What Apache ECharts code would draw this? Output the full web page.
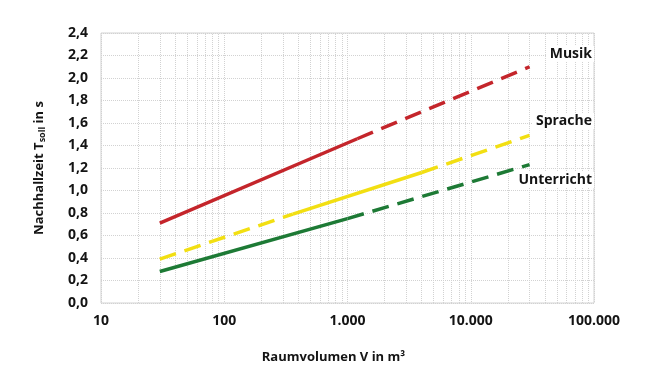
<!DOCTYPE html>
<html>
<head>
<meta charset="utf-8">
<script src="https://cdn.jsdelivr.net/npm/echarts@6/dist/echarts.min.js"></script>
<style>
  html, body { margin: 0; padding: 0; background: #fff; }
  #chart { width: 646px; height: 372px; }
</style>
</head>
<body>
<div id="chart"></div>
<script>
var xTicks = [10, 100, 1000, 10000, 100000];
var xTickLabels = ['10', '100', '1.000', '10.000', '100.000'];
var minorGrid = [20, 30, 40, 50, 60, 70, 80, 90,
                 200, 300, 400, 500, 600, 700, 800, 900,
                 2000, 3000, 4000, 5000, 6000, 7000, 8000, 9000,
                 20000, 30000, 40000, 50000, 60000, 70000, 80000, 90000];

// [Raumvolumen, Nachhallzeit]
var musikSolid = [[30, 0.71], [1200, 1.46]];
var musikDash = [[1200, 1.46], [30000, 2.10]];
var spracheDash = [[30, 0.39], [360, 0.79]];
var spracheSolid = [[360, 0.79], [4000, 1.16]];
var spracheDash2 = [[4000, 1.16], [30000, 1.49]];
var unterrichtSolid = [[30, 0.28], [1000, 0.75]];
var unterrichtDash = [[1000, 0.75], [30000, 1.23]];

var labels = ['Musik', 'Sprache', 'Unterricht'];

var red = '#c4252b';
var yellow = '#f2df12';
var green = '#1d7a35';
var font = 'Open Sans';

var dom = document.getElementById('chart');
var myChart = echarts.init(dom);

function line(data, color, dashed) {
    return {
        type: 'line',
        data: data,
        symbol: 'none',
        silent: true,
        z: 10,
        lineStyle: {
            color: color,
            width: 3.5,
            type: dashed ? [17, 9] : 'solid',
            cap: 'butt'
        }
    };
}

var series = [
    {
        type: 'line',
        data: [],
        z: 1,
        markLine: {
            silent: true,
            symbol: 'none',
            z: 1,
            label: { show: false },
            lineStyle: { color: '#d2d2d2', type: 'dotted', width: 1 },
            data: minorGrid.map(function (v) { return { xAxis: v }; })
        }
    },
    line(musikSolid, red, false),
    line(musikDash, red, true),
    line(spracheDash, yellow, true),
    line(spracheSolid, yellow, false),
    line(spracheDash2, yellow, true),
    line(unterrichtSolid, green, false),
    line(unterrichtDash, green, true)
];

function lbl(text, top) {
    return {
        type: 'text', right: 52, top: top, z: 10,
        style: {
            text: text, fontFamily: font, fontWeight: 'bold', fontSize: 14,
            fill: '#141414', backgroundColor: '#fff', padding: [1, 2, 1, 3]
        }
    };
}

option = {
    backgroundColor: '#ffffff',
    animation: false,
    grid: {
        left: 101,
        right: 52,
        top: 33,
        bottom: 69,
        show: true,
        borderColor: '#d2d2d2',
        borderWidth: 1
    },
    xAxis: {
        type: 'log',
        logBase: 10,
        min: 10,
        max: 100000,
        name: 'Raumvolumen V in m³',
        nameLocation: 'middle',
        nameGap: 48,
        nameTextStyle: {
            fontFamily: font, fontWeight: 'bold', fontSize: 13, color: '#141414',
            padding: [0, 28, 0, 0]
        },
        axisLine: { show: false },
        axisTick: { show: false },
        axisLabel: {
            margin: 11,
            fontFamily: font, fontWeight: 'bold', fontSize: 14, color: '#141414',
            formatter: function (v) {
                var i = xTicks.indexOf(Math.round(v));
                return i >= 0 ? xTickLabels[i] : '';
            }
        },
        splitLine: { show: true, lineStyle: { color: '#d2d2d2', type: 'dotted' } }
    },
    yAxis: {
        type: 'value',
        min: 0,
        max: 2.4,
        interval: 0.2,
        name: 'Nachhallzeit T{sub|soll} in s',
        nameLocation: 'middle',
        nameGap: 54,
        nameRotate: 90,
        nameTextStyle: {
            fontFamily: font, fontWeight: 'bold', fontSize: 13, color: '#141414',
            rich: {
                sub: { fontFamily: font, fontWeight: 'bold', fontSize: 9, color: '#141414', verticalAlign: 'bottom', padding: [6, 0, 0, 0] }
            }
        },
        axisLine: { show: false },
        axisTick: { show: false },
        axisLabel: {
            margin: 13,
            fontFamily: font, fontWeight: 'bold', fontSize: 14, color: '#141414',
            formatter: function (v) { return v.toFixed(1).replace('.', ','); }
        },
        splitLine: { show: true, lineStyle: { color: '#d2d2d2', type: 'dotted' } }
    },
    graphic: [
        lbl(labels[0], 46),
        lbl(labels[1], 113),
        lbl(labels[2], 172)
    ],
    series: series
};

if (option && typeof option === 'object') {
    myChart.setOption(option, true);
}
</script>
</body>
</html>
